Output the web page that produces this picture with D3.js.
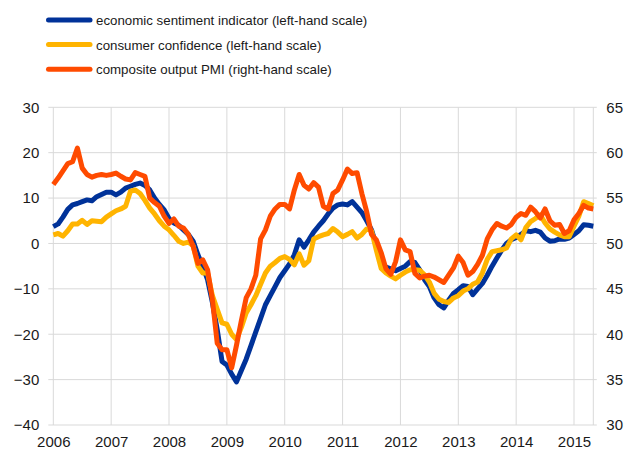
<!DOCTYPE html>
<html>
<head>
<meta charset="utf-8">
<script src="https://cdn.jsdelivr.net/npm/d3@7"></script>
<style>
  body { margin: 0; background: #fff; }
  text { font-family: Arial, "Liberation Sans", sans-serif; fill: #1a1a1a; }
</style>
</head>
<body>
<div id="chart"></div>
<script>
// Datos mensuales, enero 2006 - mayo 2015
const yearLabels = ['2006', '2007', '2008', '2009', '2010', '2011', '2012', '2013', '2014', '2015'];

// economic sentiment indicator (escala izquierda)
const esi = [
  3.7, 4.3, 5.8, 7.5, 8.5, 8.8, 9.2, 9.6, 9.4, 10.3, 10.8, 11.3,
  11.3, 10.7, 11.3, 12.2, 12.6, 13.0, 13.3, 12.8, 11.8, 10.0, 8.6, 7.4,
  5.5, 4.5, 4.0, 3.0, 2.0, 0.5, -2.5, -5.0, -8.0, -13.0, -19.0, -26.0,
  -26.8, -28.8, -30.5, -28.0, -25.5, -22.5, -19.5, -16.5, -13.5, -11.5, -9.5, -7.5,
  -6.0, -4.5, -2.5, 0.8, -0.8, 0.8, 2.5, 3.8, 5.0, 6.5, 7.8, 8.5,
  8.7, 8.5, 9.2, 8.0, 6.8, 5.0, 3.0, -0.5, -4.0, -5.2, -5.6, -6.0,
  -5.5, -5.0, -4.0, -4.2, -5.8, -8.0, -9.5, -12.0, -13.5, -14.2, -12.5, -11.0,
  -10.2, -9.3, -9.5, -11.3, -10.0, -8.8, -7.0, -5.0, -3.2, -1.5, 0.0, 0.8,
  1.3, 2.0, 2.8, 2.6, 2.9, 2.5, 1.2, 0.5, 0.6, 1.0, 0.9, 1.2,
  2.0, 2.8, 4.1, 4.0, 3.8
];

// consumer confidence (escala izquierda)
const consumer = [
  1.9, 2.2, 1.6, 2.8, 4.3, 4.3, 5.1, 4.2, 5.0, 4.9, 4.8, 5.8,
  6.5, 7.2, 7.6, 8.2, 11.5, 11.8, 11.0, 9.5, 7.8, 6.5, 5.0, 3.8,
  3.0, 1.8, 0.5, 0.0, 0.3, -0.5, -5.0, -6.5, -6.5, -11.5, -14.5, -17.5,
  -17.8, -20.0, -21.2, -18.5, -15.3, -13.5, -11.5, -9.0, -6.5, -5.0, -4.2, -3.3,
  -2.9, -3.5, -4.7, -2.3, -4.8, -3.8, 1.0, 1.5, 1.9, 2.2, 3.3, 2.5,
  1.5, 2.0, 2.6, 1.2, 2.0, 3.2, 2.8, -1.5, -5.5, -6.5, -7.2, -7.8,
  -7.0, -6.3, -5.8, -5.8, -5.9, -6.9, -8.5, -11.0, -12.3, -12.8, -13.0, -12.0,
  -11.5, -10.5, -10.0, -9.0, -8.5, -6.5, -3.5, -1.8, -1.6, -1.4, -1.0, 1.0,
  1.9, 0.8, 3.5, 4.8, 5.5, 6.3, 4.5, 3.2, 2.5, 1.9, 1.5, 1.5,
  3.8, 6.0, 9.2, 8.8, 8.3
];

// composite output PMI (escala derecha)
const pmi = [
  56.5, 57.2, 58.0, 58.8, 59.0, 60.5, 58.3, 57.6, 57.3, 57.5, 57.6, 57.5,
  57.6, 57.75, 57.4, 57.1, 57.0, 57.8, 57.6, 57.4, 55.0, 54.5, 54.1, 53.0,
  52.2, 52.7, 51.9, 51.7, 51.0, 49.7, 47.8, 48.2, 47.1, 43.8, 39.0, 38.3,
  38.3, 36.3, 38.8, 41.5, 44.0, 45.0, 46.5, 50.5, 51.5, 53.0, 53.8, 54.3,
  54.3, 53.8, 55.9, 57.6, 56.4, 56.0, 56.7, 56.2, 54.1, 53.8, 55.5, 55.9,
  57.0, 58.2, 57.7, 57.8, 55.5, 53.5, 51.0, 50.4, 49.0, 47.2, 46.6, 48.0,
  50.4, 49.3, 49.1, 46.7, 46.2, 46.4, 46.5, 46.3, 46.0, 45.7, 46.5, 47.3,
  48.6, 47.9, 46.5, 46.9, 47.7, 48.7, 50.5, 51.5, 52.2, 51.9, 51.7, 52.1,
  52.9, 53.3, 53.1, 54.0, 53.5, 52.8, 53.8, 52.5, 52.0, 52.1, 51.1, 51.4,
  52.6, 53.3, 54.2, 53.9, 53.8
];

const leftTicks = [-40, -30, -20, -10, 0, 10, 20, 30];
const rightTicks = [30, 35, 40, 45, 50, 55, 60, 65];

const seriesNames = [
  'economic sentiment indicator (left-hand scale)',
  'consumer confidence (left-hand scale)',
  'composite output PMI (right-hand scale)'
];
const seriesColors = ['#003299', '#ffb400', '#ff4b00'];

// Constantes
const width = 627;
const height = 466;
const plotLeft = 53.3;
const plotRight = 593.3;
const plotTop = 107.3;
const plotBottom = 425;
const lineWidth = 5;
const gridColor = '#d9d9d9';

const svg = d3.select('#chart')
  .append('svg')
  .attr('width', width)
  .attr('height', height);

const x = d3.scaleLinear()
  .domain([0, esi.length - 1])
  .range([plotLeft, plotRight]);

const yLeft = d3.scaleLinear()
  .domain([-40, 30])
  .range([plotBottom, plotTop]);

const yRight = d3.scaleLinear()
  .domain([30, 65])
  .range([plotBottom, plotTop]);

// Rejilla
const grid = svg.append('g').attr('class', 'grid');

grid.selectAll('.hline')
  .data(leftTicks)
  .enter()
  .append('line')
  .attr('x1', plotLeft - 5)
  .attr('x2', plotRight + 3.5)
  .attr('y1', d => yLeft(d))
  .attr('y2', d => yLeft(d))
  .attr('stroke', gridColor)
  .attr('stroke-width', 1);

const yearIdx = yearLabels.map((d, i) => i * 12);
grid.selectAll('.vline')
  .data(yearIdx.concat([esi.length - 1]))
  .enter()
  .append('line')
  .attr('x1', d => x(d))
  .attr('x2', d => x(d))
  .attr('y1', plotTop)
  .attr('y2', plotBottom)
  .attr('stroke', gridColor)
  .attr('stroke-width', 1);

// Ejes
const axisLeft = svg.append('g')
  .attr('transform', `translate(${plotLeft}, 0)`)
  .call(d3.axisLeft(yLeft).tickValues(leftTicks).tickSize(0).tickPadding(14));

const axisRight = svg.append('g')
  .attr('transform', `translate(${plotRight}, 0)`)
  .call(d3.axisRight(yRight).tickValues(rightTicks).tickSize(0).tickPadding(13));

const axisBottom = svg.append('g')
  .attr('transform', `translate(0, ${plotBottom})`)
  .call(d3.axisBottom(x).tickValues(yearIdx)
    .tickFormat((d, i) => yearLabels[i]).tickSize(0).tickPadding(8));

[axisLeft, axisRight, axisBottom].forEach(a => {
  a.select('.domain').remove();
  a.selectAll('text')
    .attr('font-size', 15)
    .attr('font-family', 'Arial, "Liberation Sans", sans-serif')
    .attr('fill', '#1a1a1a');
});
axisBottom.selectAll('text').attr('dy', '0.9em');

// Lineas
const lineLeft = d3.line()
  .x((d, i) => x(i))
  .y(d => yLeft(d));

const lineRight = d3.line()
  .x((d, i) => x(i))
  .y(d => yRight(d));

const plotData = [
  { values: esi, line: lineLeft, color: seriesColors[0] },
  { values: consumer, line: lineLeft, color: seriesColors[1] },
  { values: pmi, line: lineRight, color: seriesColors[2] }
];

svg.selectAll('.series')
  .data(plotData)
  .enter()
  .append('path')
  .attr('class', 'series')
  .attr('d', d => d.line(d.values))
  .attr('fill', 'none')
  .attr('stroke', d => d.color)
  .attr('stroke-width', lineWidth)
  .attr('stroke-linejoin', 'round');

// Leyenda
const legend = svg.append('g').attr('class', 'legend');
const legendY = [20, 44.5, 69.3];

seriesNames.forEach((name, i) => {
  const g = legend.append('g')
    .attr('transform', `translate(0, ${legendY[i]})`);
  g.append('line')
    .attr('x1', 48.5)
    .attr('x2', 90)
    .attr('stroke', seriesColors[i])
    .attr('stroke-width', lineWidth)
    .attr('stroke-linecap', 'round');
  g.append('text')
    .attr('x', 96)
    .attr('y', 5)
    .attr('font-size', 13.3)
    .text(name);
});
</script>
</body>
</html>
